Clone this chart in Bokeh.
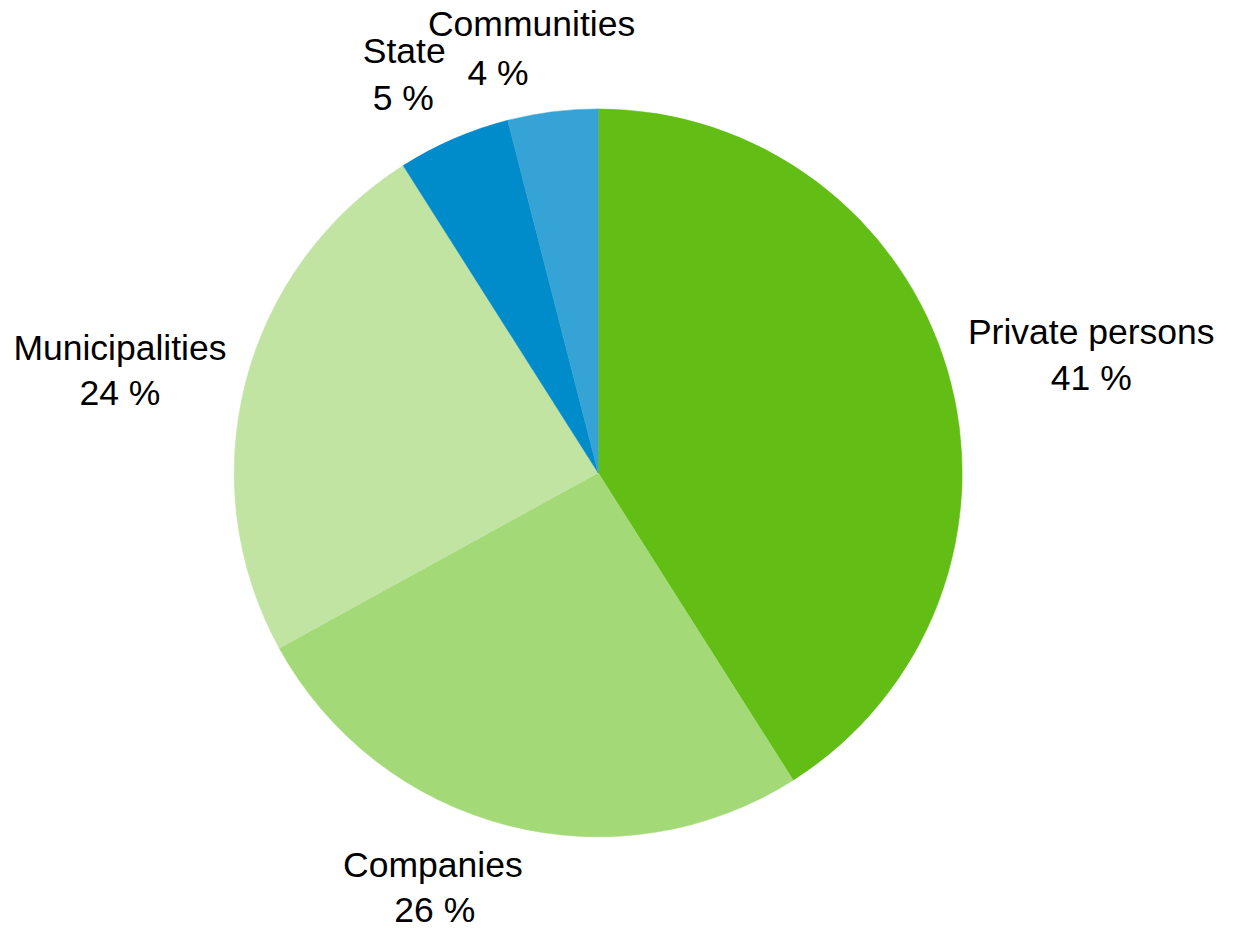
import math
from bokeh.plotting import figure
from bokeh.models import Range1d, ColumnDataSource
from bokeh.core.properties import value
from bokeh.embed import file_html
from bokeh.resources import INLINE

# ---- data ----
categories = ["Private persons", "Companies", "Municipalities", "State", "Communities"]
shares = [41, 26, 24, 5, 4]
colors = ["#62BE14", "#A3D977", "#C1E4A3", "#008BCA", "#35A3D5"]

# label layout (reference-image positions of each text line: x centre, baseline)
name_pos = [(1105, 350), (438, 893), (121, 367), (409, 65), (538, 37)]
pct_pos = [(1105, 397), (440, 938), (121, 412), (408, 112), (504, 87)]

REF_W, REF_H = 1240, 945
W, H = 1224, 929
SX, SY = W / REF_W, H / REF_H
S = (SX + SY) / 2
TEXT_SHIFT = 13  # svg text renders lower than its baseline anchor

def px(x):
    return x * SX

def py(y):
    return H - y * SY

cx, cy, r = px(605.5), py(480.5), 369.5 * S

total = float(sum(shares))
starts, ends = [], []
cum = 0.0
for s in shares:
    starts.append(math.pi / 2 - 2 * math.pi * cum / total)
    cum += s
    ends.append(math.pi / 2 - 2 * math.pi * cum / total)

src = ColumnDataSource(dict(start=starts, end=ends, color=colors, cat=categories))

p = figure(width=W, height=H, output_backend="svg", toolbar_location=None,
           x_range=Range1d(0, W), y_range=Range1d(0, H), min_border=0)
p.axis.visible = False
p.grid.visible = False
p.outline_line_color = None
p.background_fill_color = "white"

p.wedge(x=cx, y=cy, radius=r, start_angle="start", end_angle="end",
        direction="clock", fill_color="color", line_color="color",
        line_width=0.5, source=src)

lab = ColumnDataSource(dict(
    x=[px(a) for a, b in name_pos] + [px(a) for a, b in pct_pos],
    y=[py(b) + TEXT_SHIFT for a, b in name_pos] + [py(b) + TEXT_SHIFT for a, b in pct_pos],
    t=categories + [f"{s} %" for s in shares],
))
p.text(x="x", y="y", text="t", source=lab, text_align="center",
       text_baseline="alphabetic", text_font=value("Liberation Sans"),
       text_font_size=f"{36 * S:.1f}px", text_color="black")

open("out.html", "w").write(file_html(p, INLINE))
